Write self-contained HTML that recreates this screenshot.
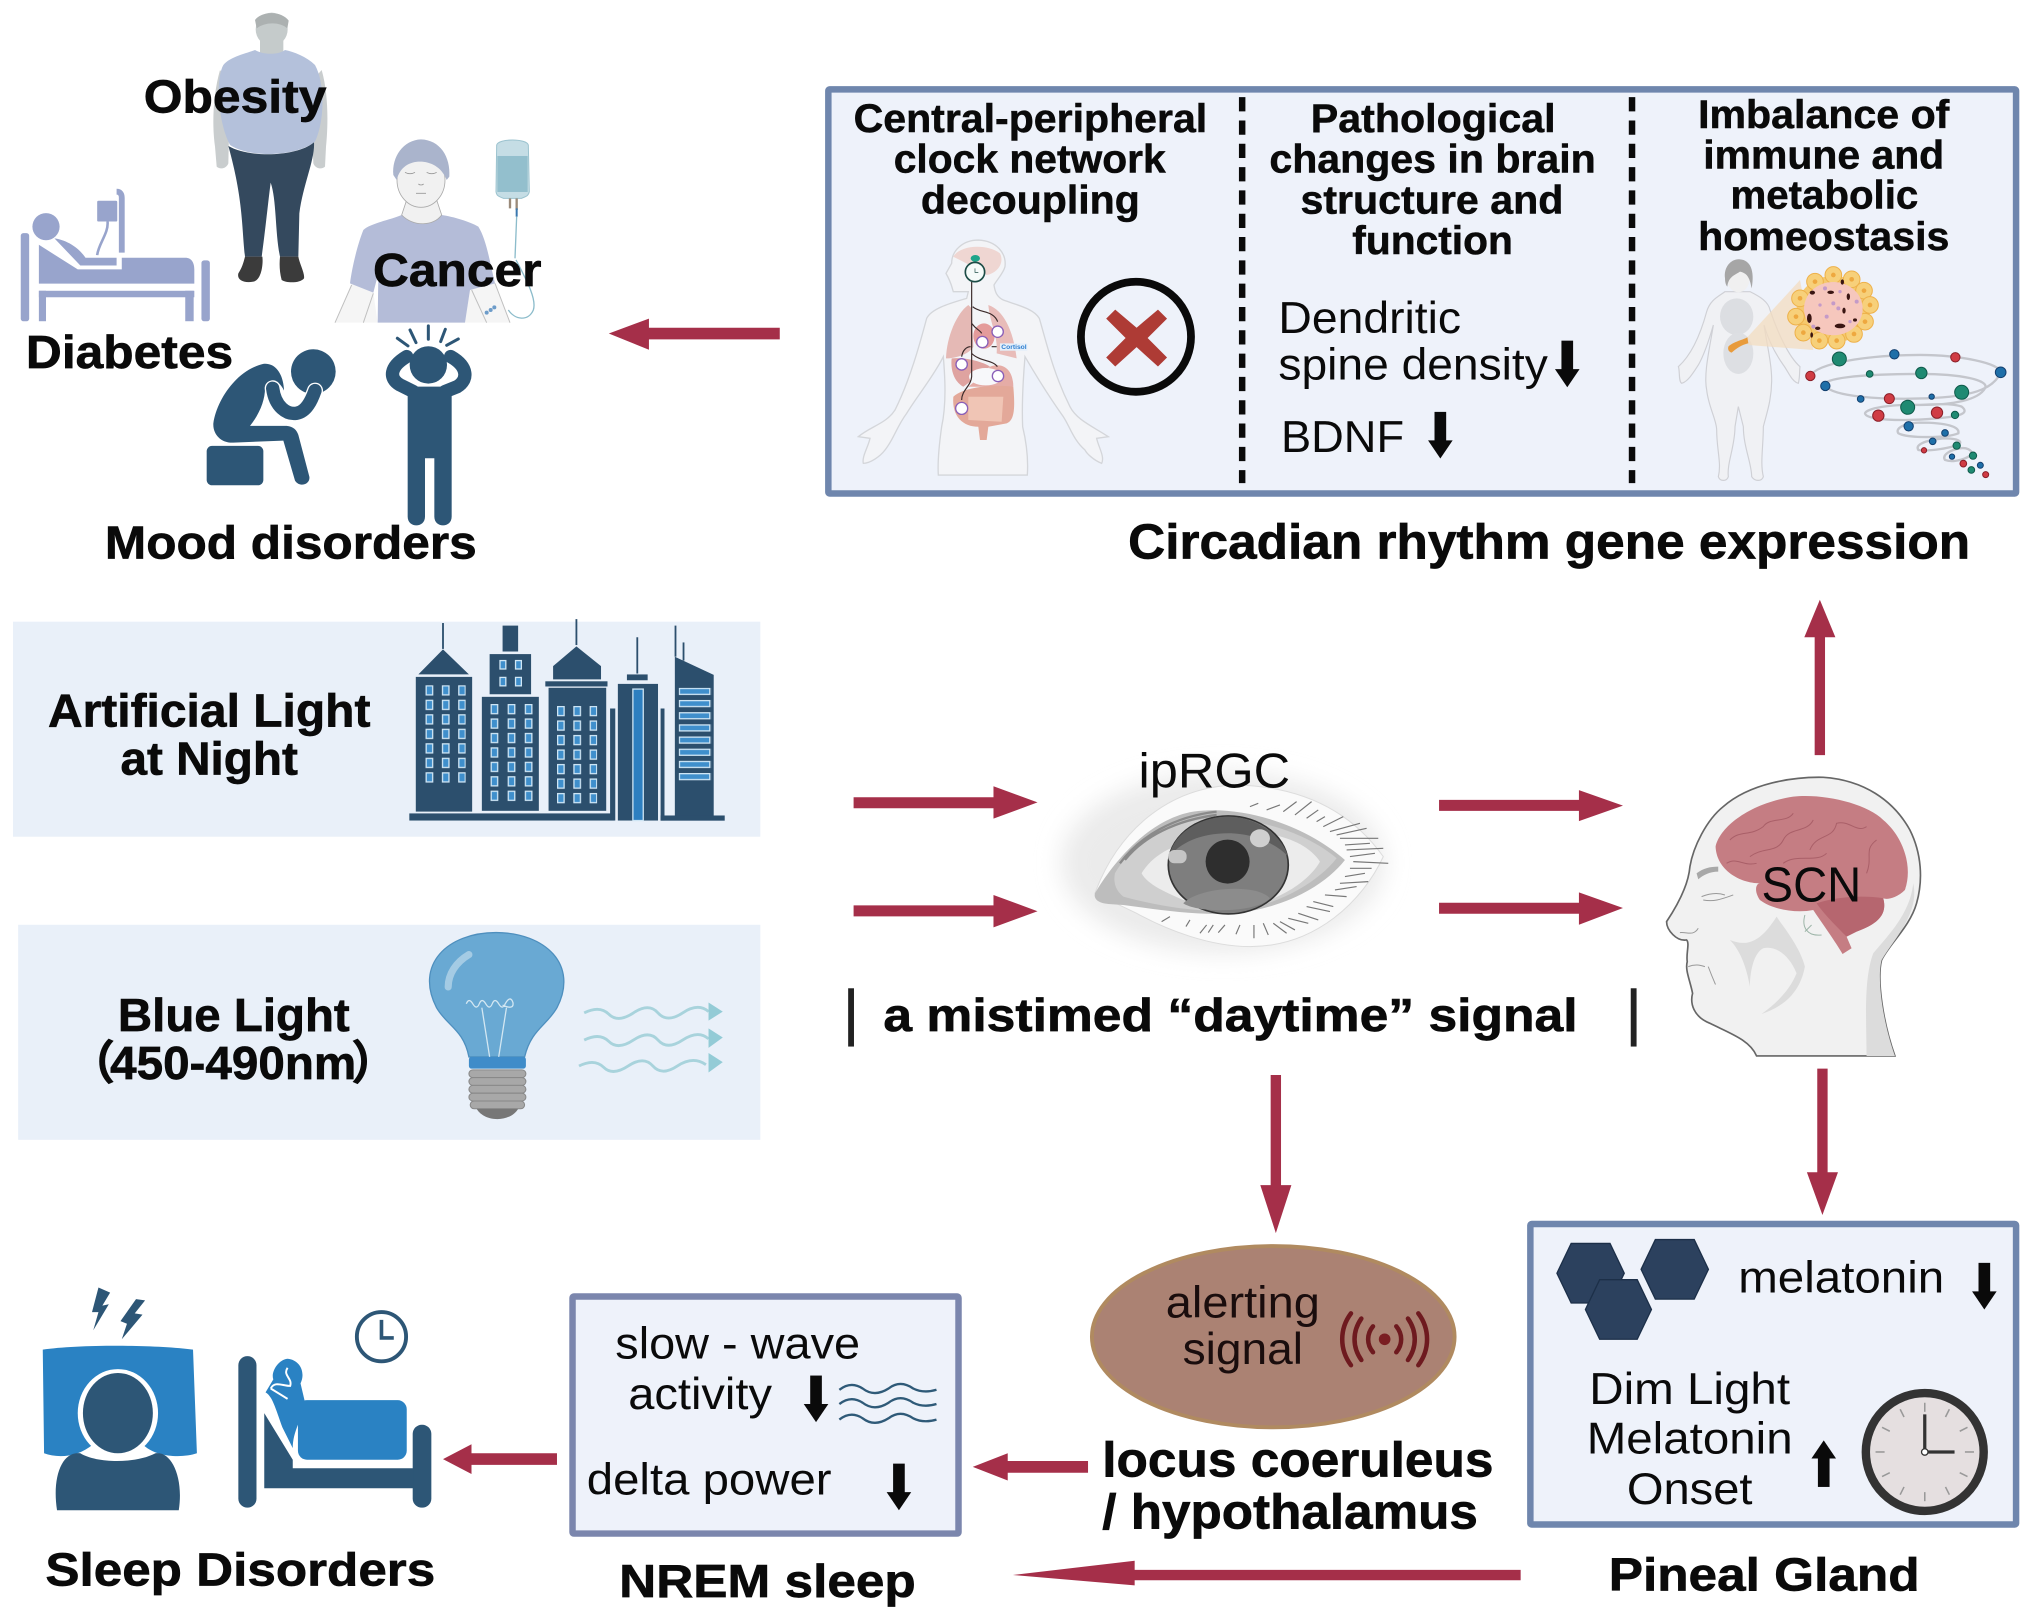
<!DOCTYPE html>
<html><head><meta charset="utf-8"><style>
html,body{margin:0;padding:0;background:#fff}
svg{display:block}
text{font-family:"Liberation Sans","Noto Sans CJK SC",sans-serif;fill:#0a0a0a}
.b{font-weight:bold;font-size:36px;stroke:#0a0a0a;stroke-width:.5px}
.h{font-weight:bold;font-size:31px;stroke:#0a0a0a;stroke-width:.4px}
.r{font-size:34px}
</style></head><body>
<svg xmlns="http://www.w3.org/2000/svg" width="2031" height="1621" viewBox="0 0 1568 1251.5">
<defs>
<pattern id="w1" x="328.5" y="529" width="12.6" height="11.2" patternUnits="userSpaceOnUse"><rect x="0.5" y="0.5" width="5" height="7" fill="#3f8fcc" stroke="#cfe6f5" stroke-width="1"/></pattern>
<pattern id="w2" x="378.7" y="543.5" width="13.2" height="11.15" patternUnits="userSpaceOnUse"><rect x="0.5" y="0.5" width="5" height="7" fill="#3f8fcc" stroke="#cfe6f5" stroke-width="1"/></pattern>
<pattern id="w3" x="430" y="545" width="12.6" height="11.2" patternUnits="userSpaceOnUse"><rect x="0.5" y="0.5" width="5" height="7" fill="#3f8fcc" stroke="#cfe6f5" stroke-width="1"/></pattern>
<pattern id="w5" x="524" y="531" width="25" height="9.4" patternUnits="userSpaceOnUse"><rect x="0.5" y="0.5" width="23.5" height="4.6" fill="#3f8fcc" stroke="#cfe6f5" stroke-width="1"/></pattern>
<filter id="bl" x="-30%" y="-30%" width="160%" height="160%"><feGaussianBlur stdDeviation="9"/></filter>
<g id="da"><rect x="-4.5" y="0" width="9" height="24" fill="#0a0a0a"/><path d="M-9.5,22 L9.5,22 L0,36 Z" fill="#0a0a0a"/></g>
</defs>

<!-- Obese man and cancer patient drawn in crop coordinates -->
<g transform="translate(154.4,0) scale(.25734)">
<path d="M60,210 C40,280 35,370 45,440 L50,500 C60,510 80,505 85,490 L90,250 Z M365,210 C385,280 385,370 378,440 L375,500 C365,510 345,505 340,490 L330,250 Z" fill="#c9cdce"/>
<rect x="180" y="115" width="70" height="50" fill="#c5cbcb"/>
<ellipse cx="215" cy="88" rx="48" ry="50" fill="#c5cbcb"/>
<path d="M165,60 C185,32 245,32 266,62 L262,85 C240,65 195,65 170,85 Z" fill="#acb1b1"/>
<path d="M165,150 C140,160 90,170 70,195 C45,240 55,370 90,435 C150,475 290,470 345,425 C375,360 375,250 345,195 C320,170 280,155 255,150 C235,165 190,165 165,150 Z" fill="#b4c1db"/>
<path d="M85,438 C150,475 290,470 342,427 C345,480 310,550 298,640 L295,770 L240,770 C225,700 230,600 212,548 C205,600 195,700 185,770 L135,770 C125,680 130,600 85,438 Z" fill="#34495e"/>
<path d="M135,770 L187,770 C190,790 185,840 160,845 C130,850 110,840 115,820 C125,805 130,790 135,770 Z M240,770 L295,770 C298,790 315,820 312,835 C300,850 260,850 245,840 C238,815 238,790 240,770 Z" fill="#3b3b3b"/>

<path d="M455,850 L405,968 L930,968 L885,850 L810,870 L795,968 L533,968 L520,878 Z" fill="#f5f5f5"/>
<path d="M455,855 L405,968 M520,880 L490,968 M815,870 L860,968 M885,850 L930,968" fill="none" stroke="#c0c0c0" stroke-width="3"/>
<path d="M605,645 C570,660 510,670 490,690 C470,740 455,810 450,850 L520,878 L535,820 L533,968 L795,968 L810,870 L885,850 C870,790 860,720 835,680 C810,665 760,650 725,645 C700,680 640,680 605,645 Z" fill="#b4bcd8"/>
<path d="M620,600 L710,600 L725,645 C700,680 640,680 605,645 Z" fill="#f1f1f1" stroke="#aaa" stroke-width="2.5"/>
<ellipse cx="663" cy="540" rx="72" ry="82" fill="#f1f1f1" stroke="#aaa" stroke-width="2.5"/>
<path d="M580,525 C575,470 610,420 663,418 C720,420 752,470 748,530 L740,540 C725,500 690,485 660,485 C630,485 600,500 590,540 Z" fill="#aab4cc"/>
<path d="M615,517 q15,8 30,0 M680,517 q15,8 30,0 M648,580 h30 M655,552 q8,6 16,0" fill="none" stroke="#999" stroke-width="2.5"/>
<path d="M890,435 C895,415 980,415 985,435 L988,575 C985,590 975,590 965,595 L910,595 C900,590 890,590 888,575 Z" fill="#c5dde5" stroke="#9cc3cf" stroke-width="3"/>
<rect x="892" y="468" width="91" height="108" fill="#93bfcd"/>
<path d="M930,595 v30 M950,595 v35" stroke="#9a8a7a" stroke-width="7"/>
<path d="M950,625 v25" stroke="#3a78b0" stroke-width="6"/>
<path d="M950,650 L945,775 M948,780 C985,850 1010,900 1000,930 C985,965 945,960 925,930" fill="none" stroke="#8cbccb" stroke-width="4"/>
<g fill="#6d9cc9"><circle cx="860" cy="938" r="6"/><circle cx="872" cy="930" r="6"/><circle cx="883" cy="922" r="6"/></g>
</g>

<!-- Hospital bed -->
<g fill="#98a4cc">
<rect x="16" y="180" width="6.5" height="68" rx="2"/>
<rect x="155.5" y="201" width="6.5" height="47" rx="2"/>
<circle cx="35.5" cy="175" r="10.5"/>
<path d="M30,189 L60,208 L94,208 L94,199 L143,199 C148,199 150,203 150,208 L150,219 L30,219 Z"/>
<path d="M42,184 C50,185 60,190 66,199 L90,199 L90,205 L62,205 Z"/>
<rect x="30" y="224.5" width="120" height="5"/>
<rect x="30" y="224.5" width="5.5" height="23.5"/>
<rect x="143" y="224.5" width="6.5" height="23.5"/>
<rect x="75" y="155" width="15.5" height="16" rx="1"/>
<path d="M94,195 L94,153 Q94,148 90,148" fill="none" stroke="#98a4cc" stroke-width="4.5"/>
<path d="M83,171 C84,180 76,188 75,197" fill="none" stroke="#98a4cc" stroke-width="2"/>
</g>

<!-- Mood disorder figures -->
<g transform="translate(154.4,247) scale(.25734)" fill="#2d5676">
<path d="M40,310 C50,240 110,150 190,132 C225,128 250,160 252,212 C235,175 205,175 195,205 C195,240 180,280 150,318 L260,318 C280,320 290,330 295,345 L328,470 C332,492 300,505 285,482 L250,362 L100,368 C65,370 38,345 40,310 Z"/>
<circle cx="340" cy="155" r="67"/>
<path d="M218,205 C225,260 260,285 290,280 C320,275 335,240 345,212" fill="none" stroke="#fff" stroke-width="48" stroke-linecap="round"/>
<path d="M218,205 C225,260 260,285 290,280 C320,275 335,240 345,212" fill="none" stroke="#2d5676" stroke-width="40" stroke-linecap="round"/>
<rect x="20" y="378" width="170" height="118" rx="16"/>
<circle cx="685" cy="135" r="56"/>
<path d="M620,110 C570,140 565,175 600,195 L640,215 M752,110 C805,140 805,180 772,200 L735,215" fill="none" stroke="#2d5676" stroke-width="40" stroke-linecap="round"/>
<path d="M623,200 L755,200 L755,590 C755,625 703,625 703,590 L703,415 L675,415 L675,590 C675,625 623,625 623,590 Z"/>
<g stroke="#2d5676" stroke-width="9" stroke-linecap="round"><line x1="592" y1="55" x2="624" y2="78"/><line x1="630" y1="30" x2="648" y2="68"/><line x1="685" y1="18" x2="685" y2="58"/><line x1="736" y1="28" x2="722" y2="65"/><line x1="775" y1="57" x2="740" y2="76"/></g>
</g>

<text class="b" x="111" y="87" textLength="141" lengthAdjust="spacingAndGlyphs">Obesity</text>
<text class="b" x="288" y="221" textLength="130" lengthAdjust="spacingAndGlyphs">Cancer</text>
<text class="b" x="20" y="284" textLength="160" lengthAdjust="spacingAndGlyphs">Diabetes</text>
<text class="b" x="81" y="431" textLength="287" lengthAdjust="spacingAndGlyphs">Mood disorders</text>

<!-- Top box -->
<rect x="639.5" y="69" width="917" height="312" fill="#eef2fa" stroke="#6f86ad" stroke-width="5" rx="1"/>
<line x1="959" y1="75" x2="959" y2="373" stroke="#0a0a0a" stroke-width="5" stroke-dasharray="11 7"/>
<line x1="1260" y1="75" x2="1260" y2="373" stroke="#0a0a0a" stroke-width="5" stroke-dasharray="11 7"/>

<text class="h" x="659" y="102" textLength="273" lengthAdjust="spacingAndGlyphs">Central-peripheral</text>
<text class="h" x="690" y="133" textLength="210" lengthAdjust="spacingAndGlyphs">clock network</text>
<text class="h" x="711" y="165" textLength="169" lengthAdjust="spacingAndGlyphs">decoupling</text>
<text class="h" x="1012" y="102" textLength="189" lengthAdjust="spacingAndGlyphs">Pathological</text>
<text class="h" x="980" y="133" textLength="252" lengthAdjust="spacingAndGlyphs">changes in brain</text>
<text class="h" x="1004" y="165" textLength="203" lengthAdjust="spacingAndGlyphs">structure and</text>
<text class="h" x="1044" y="196" textLength="124" lengthAdjust="spacingAndGlyphs">function</text>
<text class="h" x="1311" y="99" textLength="194" lengthAdjust="spacingAndGlyphs">Imbalance of</text>
<text class="h" x="1315" y="130" textLength="186" lengthAdjust="spacingAndGlyphs">immune and</text>
<text class="h" x="1336" y="161" textLength="145" lengthAdjust="spacingAndGlyphs">metabolic</text>
<text class="h" x="1311" y="193" textLength="194" lengthAdjust="spacingAndGlyphs">homeostasis</text>

<!-- Anatomy figure -->
<g transform="translate(648.5,177.6) scale(.25734)">
<path d="M335,100 C335,60 370,30 415,30 C470,32 500,70 495,110 C490,130 470,150 462,165 C465,185 470,200 490,210 C530,225 580,235 598,265 C620,340 640,430 690,530 C710,570 760,590 805,620 L770,625 C775,650 795,680 785,700 C760,690 740,670 735,660 C700,630 690,590 670,560 C620,490 590,440 555,380 C550,440 545,520 548,590 C560,640 565,690 562,735 L295,735 C292,690 298,640 305,590 C320,520 315,440 310,380 C280,440 230,500 200,550 C170,590 160,630 135,660 C120,680 90,700 70,700 C65,680 85,650 90,625 L55,620 C90,590 140,580 165,540 C210,450 240,340 260,265 C275,235 330,220 380,205 L385,185 L340,185 C335,170 335,160 318,130 Z" fill="#f3f4f7" stroke="#d4d6da" stroke-width="4"/>
<path d="M340,80 C360,45 440,40 480,70 C495,100 470,130 440,135 C400,110 370,95 340,80 Z" fill="#efd6d2"/>
<path d="M385,225 C350,250 320,320 318,385 C350,385 390,370 400,350 L395,235 Z" fill="#e5b9b5"/>
<path d="M445,225 C490,240 520,300 530,385 C510,380 490,375 470,370 C475,320 450,280 445,225 Z" fill="#e8bcb9"/>
<ellipse cx="432" cy="318" rx="32" ry="38" fill="#e49b9b"/>
<path d="M335,385 C380,380 440,400 450,410 C420,430 385,460 370,470 C350,460 330,430 335,385 Z" fill="#dfa3a0"/>
<path d="M450,410 C490,395 520,420 520,470 L385,470 C410,450 430,430 450,410 Z" fill="#e5aca6"/>
<ellipse cx="437" cy="440" rx="50" ry="26" fill="#f7f8fa"/>
<path d="M340,500 C380,465 480,465 520,470 C525,530 525,570 500,580 L445,590 L440,630 L420,630 L415,590 C370,590 335,560 340,500 Z" fill="#e3a899"/>
<path d="M385,500 L490,500 L485,575 L385,570 Z" fill="#f0c5b5"/>
<ellipse cx="406" cy="85" rx="14" ry="10" fill="#1fa58a"/>
<path d="M395,155 L395,440 C392,470 365,480 365,510 M398,230 C420,250 460,240 473,275 M395,280 C410,300 420,300 425,310 M395,370 C420,395 460,390 472,410 M392,350 C380,350 368,360 365,380 M455,350 L470,350" fill="none" stroke="#3a2a2a" stroke-width="3.5"/>
<circle cx="405" cy="126" r="29" fill="#f5fbf9" stroke="#1c4c46" stroke-width="5"/>
<path d="M405,115 v12 h10" stroke="#1c4c46" stroke-width="2" fill="none"/>
<g fill="#fff" stroke="#8a5fb8" stroke-width="4"><circle cx="473" cy="305" r="17"/><circle cx="427" cy="336" r="17"/><circle cx="365" cy="403" r="17"/><circle cx="474" cy="438" r="17"/><circle cx="365" cy="535" r="18"/></g>
<rect x="480" y="340" width="82" height="22" fill="#e4effa"/>
<text x="484" y="357" font-size="18" font-weight="bold" textLength="76" lengthAdjust="spacingAndGlyphs" style="fill:#2f7fd0">Cortisol</text>
</g>
<circle cx="877" cy="260" r="42.5" fill="none" stroke="#0a0a0a" stroke-width="6"/>
<path d="M854,246 L861,239 L877.5,253 L894,239 L901,246 L886,261 L901,276 L894,283 L877.5,268 L861,283 L854,276 L869,261 Z" fill="#ae3b35"/>

<!-- Middle column text -->
<text class="r" x="987" y="257" textLength="141" lengthAdjust="spacingAndGlyphs">Dendritic</text>
<text class="r" x="987" y="293" textLength="208" lengthAdjust="spacingAndGlyphs">spine density</text>
<text class="r" x="989" y="349" textLength="95" lengthAdjust="spacingAndGlyphs">BDNF</text>
<use href="#da" x="1210" y="263"/>
<use href="#da" x="1112" y="318"/>

<!-- Obese woman + tornado -->
<g transform="translate(1281.6,193) scale(.25734)">
<path d="M195,125 C175,140 150,150 140,185 C125,240 100,310 55,350 C60,360 55,395 65,400 C85,395 105,360 115,345 C135,310 150,260 160,225 C150,290 130,370 140,420 C145,470 170,510 170,540 C170,600 185,640 175,680 C180,695 200,695 205,680 C200,640 225,590 225,530 L235,470 L250,530 C250,590 275,640 275,680 C285,695 305,695 310,680 C300,640 310,590 310,530 C320,490 335,450 335,390 C335,340 320,280 312,225 C325,270 345,310 370,345 C385,365 395,395 415,400 C420,380 418,365 420,350 C385,320 350,240 330,180 C325,155 300,140 270,125 Z" fill="#f0f1f4" stroke="#cfd0d5" stroke-width="3.5"/>
<ellipse cx="235" cy="85" rx="34" ry="42" fill="#f0f0f0"/>
<path d="M195,85 C190,50 215,25 240,28 C270,30 285,60 275,115 C270,90 265,70 240,65 C225,75 205,80 202,110 C197,105 195,95 195,85 Z" fill="#a6a6a6"/>
<ellipse cx="230" cy="200" rx="50" ry="55" fill="#dcdee2"/>
<ellipse cx="235" cy="310" rx="45" ry="62" fill="#dddfe3"/>
<polygon points="262,262 420,90 460,300 265,285" fill="#f3dcc0" opacity=".75"/>
<path d="M205,290 C220,275 250,270 262,262 L265,280 C245,285 230,295 215,308 C205,305 203,298 205,290 Z" fill="#e89b3c"/>
<ellipse cx="520" cy="178" rx="110" ry="100" fill="#f5c96e"/>
<g fill="#f7d07a" stroke="#eeb14a" stroke-width="3"><circle cx="465" cy="95" r="25"/><circle cx="520" cy="75" r="25"/><circle cx="575" cy="88" r="25"/><circle cx="612" cy="122" r="25"/><circle cx="630" cy="165" r="25"/><circle cx="615" cy="215" r="25"/><circle cx="582" cy="252" r="25"/><circle cx="530" cy="272" r="25"/><circle cx="478" cy="272" r="25"/><circle cx="430" cy="248" r="25"/><circle cx="408" cy="200" r="25"/><circle cx="420" cy="145" r="25"/></g>
<g fill="#eea83f"><circle cx="465" cy="95" r="7"/><circle cx="520" cy="75" r="7"/><circle cx="575" cy="88" r="7"/><circle cx="612" cy="122" r="7"/><circle cx="630" cy="165" r="7"/><circle cx="615" cy="215" r="7"/><circle cx="582" cy="252" r="7"/><circle cx="530" cy="272" r="7"/><circle cx="478" cy="272" r="7"/><circle cx="430" cy="248" r="7"/><circle cx="408" cy="200" r="7"/><circle cx="420" cy="145" r="7"/></g>
<ellipse cx="520" cy="176" rx="88" ry="80" fill="#f6c7bd"/>
<g fill="#3a1512"><ellipse cx="457" cy="128" rx="8" ry="6"/><ellipse cx="512" cy="127" rx="10" ry="5"/><ellipse cx="547" cy="96" rx="5" ry="8"/><ellipse cx="565" cy="140" rx="5" ry="10"/><ellipse cx="448" cy="205" rx="7" ry="14"/><ellipse cx="540" cy="228" rx="16" ry="7"/><ellipse cx="552" cy="182" rx="5" ry="9"/><ellipse cx="473" cy="235" rx="8" ry="5"/><ellipse cx="455" cy="255" rx="4" ry="8"/><ellipse cx="585" cy="210" rx="6" ry="5"/></g>
<g fill="#c49ac8"><circle cx="495" cy="115" r="6"/><circle cx="540" cy="125" r="5"/><circle cx="520" cy="160" r="6"/><circle cx="480" cy="165" r="5"/><circle cx="590" cy="155" r="6"/><circle cx="500" cy="200" r="6"/><circle cx="535" cy="175" r="6"/><circle cx="460" cy="230" r="6"/><circle cx="570" cy="215" r="5"/></g>
<g fill="none" stroke="#c4c6cc" stroke-width="7">
<path d="M451,378 C470,340 620,315 780,315 C900,315 1020,340 1022,367 C1000,420 930,440 800,445 C660,450 520,440 496,408 C480,385 600,372 780,372 C900,372 990,390 975,415 C955,450 880,465 780,465 C690,462 620,475 615,490 C615,510 720,515 830,505 C900,500 930,490 905,470 C880,460 820,462 780,465"/>
<path d="M780,518 C730,520 705,535 715,550 C740,565 860,565 895,550 C900,530 860,518 780,518 Z"/>
<path d="M850,565 C790,572 765,585 775,600 C800,605 880,595 900,580 C905,570 880,565 850,565 Z"/>
<path d="M900,595 C870,600 845,615 855,630 C880,640 930,625 935,610 C935,600 920,592 900,595 Z"/>
</g>
<g stroke="#0f5a4a" stroke-width="3" fill="#1f8a72"><circle cx="538" cy="327" r="21"/><circle cx="629" cy="372" r="10"/><circle cx="784" cy="369" r="17"/><circle cx="905" cy="427" r="21"/><circle cx="743" cy="472" r="21"/><circle cx="885" cy="495" r="11"/><circle cx="890" cy="587" r="11"/><circle cx="939" cy="617" r="11"/><circle cx="934" cy="660" r="10"/></g>
<g stroke="#123f6e" stroke-width="3" fill="#1e6fa8"><circle cx="703" cy="313" r="14"/><circle cx="1022" cy="367" r="16"/><circle cx="496" cy="408" r="14"/><circle cx="602" cy="447" r="10"/><circle cx="815" cy="440" r="8"/><circle cx="746" cy="529" r="14"/><circle cx="855" cy="549" r="10"/><circle cx="818" cy="574" r="10"/><circle cx="876" cy="620" r="8"/><circle cx="961" cy="646" r="9"/></g>
<g stroke="#8a1f28" stroke-width="3" fill="#d03c44"><circle cx="886" cy="322" r="14"/><circle cx="451" cy="378" r="14"/><circle cx="688" cy="446" r="15"/><circle cx="655" cy="497" r="17"/><circle cx="831" cy="488" r="17"/><circle cx="792" cy="601" r="8"/><circle cx="910" cy="641" r="10"/><circle cx="977" cy="674" r="9"/></g>
</g>

<text x="871" y="431" textLength="650" lengthAdjust="spacingAndGlyphs" class="b" style="font-size:38px">Circadian rhythm gene expression</text>

<!-- Artificial light panel -->
<rect x="10" y="480" width="577" height="166" fill="#e9f0f9"/>
<text class="b" x="37" y="561" textLength="249" lengthAdjust="spacingAndGlyphs">Artificial Light</text>
<text class="b" x="93" y="598" textLength="137" lengthAdjust="spacingAndGlyphs">at Night</text>
<g fill="#2c4f6d">
<rect x="321" y="522.6" width="43.5" height="104"/>
<polygon points="342,501.4 362,520.7 323,520.7"/>
<rect x="341.3" y="481" width="1.4" height="20"/>
<rect x="372" y="538" width="44" height="88"/>
<rect x="378" y="505" width="32" height="31"/>
<rect x="388" y="483" width="12" height="20"/>
<rect x="423.5" y="531" width="44.5" height="95"/>
<rect x="421" y="526" width="48" height="4"/>
<polygon points="445,499 464,514.3 464,524.5 427,524.5 427,514.3"/>
<rect x="444.3" y="478" width="1.4" height="20"/>
<rect x="477" y="528" width="31" height="105.5"/>
<rect x="484" y="520.7" width="16" height="4.5"/>
<rect x="491.3" y="492" width="1.4" height="28"/>
<rect x="471" y="547" width="4" height="86.5"/>
<rect x="510" y="547" width="3" height="86.5"/>
<polygon points="521,507 551,521 551,630 521,630"/>
<rect x="520.8" y="483" width="1.4" height="24"/>
<rect x="527" y="496" width="1.4" height="14"/>
<rect x="316" y="628" width="158" height="5.5"/>
<rect x="510" y="629.6" width="49.5" height="4"/>
</g>
<rect x="328.5" y="529" width="31" height="78" fill="url(#w1)"/>
<rect x="378.7" y="543.5" width="34" height="78" fill="url(#w2)"/>
<rect x="430" y="545" width="31" height="78" fill="url(#w3)"/>
<rect x="524" y="531" width="25" height="75" fill="url(#w5)"/>
<rect x="488.6" y="532" width="8" height="101.5" fill="#2d7fc0" stroke="#cfe6f5" stroke-width="1"/>
<g fill="#3f8fcc" stroke="#cfe6f5" stroke-width="1"><rect x="386" y="510" width="4.5" height="6.5"/><rect x="398" y="510" width="4.5" height="6.5"/><rect x="386" y="523" width="4.5" height="6.5"/><rect x="398" y="523" width="4.5" height="6.5"/></g>

<!-- Blue light panel -->
<rect x="14" y="714" width="573" height="166" fill="#e9f0f9"/>
<text class="b" x="91" y="796" textLength="179" lengthAdjust="spacingAndGlyphs">Blue Light</text>
<text class="b" x="53" y="833">（</text>
<text class="b" x="85" y="833" textLength="190" lengthAdjust="spacingAndGlyphs">450-490nm</text>
<text class="b" x="271" y="833">）</text>
<path d="M362,816 C358,795 345,792 337,778 C320,745 345,720 383,720 C421,720 447,745 430,778 C422,792 410,795 405,816 Z" fill="#69a9d3" stroke="#4e8fbe" stroke-width="1"/>
<path d="M346,762 C346,752 352,743 362,737" fill="none" stroke="#a4cbe4" stroke-width="5.5" stroke-linecap="round"/>
<path d="M360,775 q2,-5 5,0 q3,5 5,0 q2,-5 5,0 q3,5 5,0 q2,-5 5,0 q3,5 5,0 q4,-7 6,-1 q1,6 -8,2 M372,778 L378,816 M391,778 L385,816" fill="none" stroke="#d3e7f2" stroke-width="1"/>
<rect x="362" y="816" width="44" height="9" fill="#3f8cc9" rx="2"/>
<g fill="#a8a8a8" stroke="#888" stroke-width=".8"><rect x="362" y="826" width="44" height="6" rx="3"/><rect x="362" y="832" width="44" height="6" rx="3"/><rect x="362" y="838" width="44" height="6" rx="3"/><rect x="362" y="844" width="44" height="6" rx="3"/><rect x="363" y="850" width="42" height="6" rx="3"/></g>
<path d="M368,856 L400,856 C398,860 392,864 384,864 C376,864 370,860 368,856 Z" fill="#777"/>
<g fill="none" stroke="#a8d3dc" stroke-width="2.2">
<path d="M451,782 q12,-6 19,1 t19,-1 t19,0 t19,0 t20,-1"/>
<path d="M451,803 q12,-6 19,1 t19,-1 t19,0 t19,0 t20,-1"/>
<path d="M447,823 q12,-6 19,1 t19,-1 t19,0 t19,0 t22,-1"/>
</g>
<g fill="#93cbd6"><polygon points="547,774 558,781 547,788"/><polygon points="547,794 558,801 547,809"/><polygon points="547,813 558,820 547,828"/></g>

<!-- Eye -->
<ellipse cx="944" cy="666" rx="125" ry="70" fill="#ebebeb" filter="url(#bl)"/>
<g transform="translate(810.6,579) scale(.25734)">
<path d="M135,430 C200,250 350,110 560,105 C750,110 900,180 1000,320 C940,450 800,590 600,590 C480,590 350,540 260,490 Z" fill="#fafafa" stroke="#dcdcdc" stroke-width="3"/>
<path d="M135,430 C170,370 280,210 430,185 C570,165 760,220 885,330 C830,400 720,470 560,490 C440,498 330,480 220,465 L175,462 C150,460 130,450 135,430 Z" fill="#bdbdbd"/>
<path d="M195,370 C240,290 340,220 480,205 C600,200 760,240 860,325 C810,390 700,460 570,480 C450,490 330,470 220,440 C195,420 190,395 195,370 Z" fill="#cfcfcf"/>
<path d="M275,370 C310,310 380,280 450,270 L640,250 C720,260 780,290 810,335 C780,390 700,440 640,455 L400,450 C340,425 290,400 275,370 Z" fill="#ececec"/>
<ellipse cx="535" cy="345" rx="180" ry="147" fill="#7e7e7e" stroke="#333" stroke-width="5"/>
<path d="M358,320 C370,250 450,200 535,200 C620,200 700,260 714,320 C690,290 620,250 535,250 C450,250 390,280 358,320 Z" fill="#5e5e5e"/>
<path d="M400,460 C450,410 620,400 660,445 C620,490 440,490 400,460 Z" fill="#8c8c8c"/>
<circle cx="533" cy="335" r="66" fill="#2e2e2e"/>
<ellipse cx="630" cy="265" rx="30" ry="27" fill="#cfcfcf"/>
<rect x="355" y="300" width="55" height="40" rx="18" fill="#c5c5c5"/>
<path d="M210,340 C270,260 370,200 500,185 M225,330 C280,260 380,210 500,195" fill="none" stroke="#8a8a8a" stroke-width="7"/>
<g stroke="#777" stroke-width="3.5" fill="none">
<path d="M600,170 L625,160 M650,180 L690,165 M700,185 L740,155 M735,195 L785,155 M770,205 L805,180 M800,215 L825,200 M820,230 L880,200 M840,245 L930,220 M860,255 L950,235 M870,265 L985,265 M885,285 L960,280 M890,300 L1000,295 M900,320 L975,310 M910,335 L1015,340"/>
<path d="M900,355 L965,355 M885,380 L945,370 M870,400 L955,395 M855,420 L920,410 M825,435 L890,440 M790,455 L850,470 M770,470 L840,485 M745,490 L805,510 M715,505 L775,520 M690,515 L735,540 M670,520 L710,550 M640,520 L655,555 M612,525 L612,565 M570,525 L558,553 M525,525 L505,548 M490,525 L475,548 M470,525 L450,550 M420,510 L408,530 M360,500 L335,515"/>
</g>
</g>
<text x="879" y="608" font-size="38" textLength="117" lengthAdjust="spacingAndGlyphs">ipRGC</text>

<!-- Head -->
<g transform="translate(1273.8,571.3) scale(.25734)">
<path d="M320,948 C300,900 240,880 180,850 C130,830 120,790 128,760 C120,720 105,690 112,665 C108,640 120,610 110,600 C80,605 50,570 50,545 C80,500 115,440 120,380 C130,320 170,240 220,200 C300,130 430,110 520,112 C640,120 730,180 780,270 C815,340 820,420 800,490 C780,560 720,610 695,660 C680,720 700,850 735,948 Z" fill="#f1f1f1" stroke="#666" stroke-width="5"/>
<path d="M650,948 C650,850 640,720 670,640 C720,580 780,520 790,430 C810,520 730,600 695,660 C680,720 700,850 735,948 Z" fill="#dcdcdc"/>
<path d="M240,600 C290,620 330,610 380,530 C400,560 450,620 465,680 C450,760 400,800 335,822 C380,790 420,750 440,700 C420,650 380,615 340,625 C310,640 300,700 300,740 C290,680 270,630 240,600 Z" fill="#dcdcdc"/>
<path d="M140,400 C160,385 180,380 205,380 L205,395 C180,395 160,405 145,418 Z" fill="#a8a8a8"/>
<path d="M155,470 C180,460 205,458 225,465 M160,480 C190,485 210,480 250,465 M90,578 C110,575 130,590 145,565 M115,680 C135,672 150,675 165,680 M175,680 C190,720 200,740 195,730" fill="none" stroke="#999" stroke-width="3"/>
<path d="M197,320 C210,260 300,190 430,170 C520,160 650,190 700,240 C760,290 790,380 765,450 C740,475 710,480 700,475 C712,520 690,550 620,575 L590,590 L605,625 L578,642 C560,610 510,540 490,510 C440,520 370,510 330,480 C310,450 320,430 330,430 C270,430 200,390 197,320 Z" fill="#c57d83"/>
<path d="M500,490 C560,470 640,465 700,475 C712,520 690,550 620,575 L590,590 C560,560 520,520 500,490 Z" fill="#b6666f"/>
<path d="M240,300 C270,270 300,290 340,260 C360,230 410,250 430,220 M300,350 C340,320 380,340 400,300 C420,260 470,280 490,240 M480,330 C500,280 550,300 560,250 C600,240 620,280 650,260 M650,400 C670,350 640,330 680,300 M400,370 C440,340 500,370 530,340 M230,370 C260,350 280,380 320,370" fill="none" stroke="#a95f68" stroke-width="3"/>
<path d="M465,525 C455,560 470,590 515,585 M465,575 l20,-20" fill="none" stroke="#9db5a8" stroke-width="3"/>
</g>
<text x="1360" y="696" font-size="38" textLength="77" lengthAdjust="spacingAndGlyphs">SCN</text>

<!-- mistimed -->
<rect x="654.8" y="763" width="4.5" height="45" fill="#222"/>
<rect x="1259" y="763" width="4.5" height="45" fill="#222"/>
<text class="b" x="682" y="796" textLength="536" lengthAdjust="spacingAndGlyphs">a mistimed “daytime” signal</text>

<!-- Arrows -->
<g fill="#a52f49">
<path d="M602,253 L501,253 L501,246 L470,257.5 L501,270 L501,262 L602,262 Z"/>
<path d="M659,615.5 L767,615.5 L767,607 L801,619.5 L767,632 L767,624 L659,624 Z"/>
<path d="M659,699 L767,699 L767,691 L801,703.5 L767,716 L767,707.5 L659,707.5 Z"/>
<path d="M1111,617.5 L1219,617.5 L1219,610 L1253,622 L1219,634 L1219,626 L1111,626 Z"/>
<path d="M1111,697 L1219,697 L1219,689 L1253,701 L1219,714 L1219,705.5 L1111,705.5 Z"/>
<path d="M1401,583 L1401,492 L1393,492 L1405,463 L1417,492 L1409,492 L1409,583 Z"/>
<path d="M981,830 L981,915 L973,915 L985,952 L997,915 L989,915 L989,830 Z"/>
<path d="M1403,825 L1403,905 L1395,905 L1407,938 L1419,905 L1411,905 L1411,825 Z"/>
<path d="M430,1122 L364,1122 L364,1115 L342,1126.5 L364,1138 L364,1131 L430,1131 Z"/>
<path d="M840,1128 L778,1128 L778,1122 L751,1132.5 L778,1143 L778,1137 L840,1137 Z"/>
<path d="M1174,1212 L876,1212 L876,1205 L782,1216 L876,1224 L876,1220 L1174,1220 Z"/>
</g>

<!-- Locus coeruleus -->
<ellipse cx="983" cy="1032" rx="140" ry="70" fill="#ab8273" stroke="#b08a60" stroke-width="3"/>
<text class="r" x="900" y="1017" textLength="119" lengthAdjust="spacingAndGlyphs" style="fill:#1a0d0d">alerting</text>
<text class="r" x="913" y="1053" textLength="93" lengthAdjust="spacingAndGlyphs" style="fill:#1a0d0d">signal</text>
<g fill="none" stroke="#6e1a1f" stroke-width="3.5" stroke-linecap="round">
<path d="M1060,1024 C1055,1030 1055,1038 1060,1044 M1078,1024 C1083,1030 1083,1038 1078,1044"/>
<path d="M1051,1018 C1044,1028 1044,1040 1051,1050 M1087,1018 C1094,1028 1094,1040 1087,1050"/>
<path d="M1043,1014 C1034,1026 1034,1042 1043,1054 M1095,1014 C1104,1026 1104,1042 1095,1054"/>
</g>
<circle cx="1069" cy="1034" r="4.5" fill="#7a1e22"/>
<text class="b" x="851" y="1140" textLength="302" lengthAdjust="spacingAndGlyphs" style="font-size:38px">locus coeruleus</text>
<text class="b" x="851" y="1180" textLength="290" lengthAdjust="spacingAndGlyphs" style="font-size:38px">/ hypothalamus</text>

<!-- Pineal box -->
<rect x="1181.5" y="945" width="375" height="232" fill="#eef2fa" stroke="#6f86ad" stroke-width="5" rx="1"/>
<g fill="#2c415e" stroke="#1c2f48" stroke-width="1">
<polygon points="1202,983 1213,960 1243,960 1254,983 1243,1006 1213,1006"/>
<polygon points="1267,980 1278,957 1308,957 1319,980 1308,1003 1278,1003"/>
<polygon points="1224,1011 1235,988 1264,988 1275,1011 1264,1034 1235,1034"/>
</g>
<text class="r" x="1342" y="998" textLength="159" lengthAdjust="spacingAndGlyphs">melatonin</text>
<use href="#da" x="1532" y="975"/>
<text class="r" x="1227" y="1084" textLength="155" lengthAdjust="spacingAndGlyphs">Dim Light</text>
<text class="r" x="1225" y="1122" textLength="159" lengthAdjust="spacingAndGlyphs">Melatonin</text>
<text class="r" x="1256" y="1161" textLength="97" lengthAdjust="spacingAndGlyphs">Onset</text>
<g transform="translate(1408,1148) scale(1,-1)"><use href="#da" x="0" y="0"/></g>
<circle cx="1486" cy="1121" r="45.5" fill="#e5dfe0" stroke="#333" stroke-width="6.5"/>
<g stroke="#999" stroke-width="1.2"><line x1="1486" y1="1083" x2="1486" y2="1090"/><line x1="1486" y1="1152" x2="1486" y2="1159"/><line x1="1448" y1="1121" x2="1455" y2="1121"/><line x1="1517" y1="1121" x2="1524" y2="1121"/><line x1="1467" y1="1088" x2="1470" y2="1094"/><line x1="1505" y1="1088" x2="1502" y2="1094"/><line x1="1467" y1="1154" x2="1470" y2="1148"/><line x1="1505" y1="1154" x2="1502" y2="1148"/><line x1="1453" y1="1102" x2="1459" y2="1105"/><line x1="1519" y1="1102" x2="1513" y2="1105"/><line x1="1453" y1="1140" x2="1459" y2="1137"/><line x1="1519" y1="1140" x2="1513" y2="1137"/></g>
<path d="M1486,1121 L1486,1092 M1486,1121 L1509,1121" stroke="#333" stroke-width="2.5"/>
<circle cx="1486" cy="1121" r="2.5" fill="#fff" stroke="#333" stroke-width="1"/>
<text class="b" x="1242" y="1228" textLength="240" lengthAdjust="spacingAndGlyphs">Pineal Gland</text>

<!-- NREM box -->
<rect x="442" y="1001" width="298" height="183" fill="#eef2fa" stroke="#7b86ad" stroke-width="5" rx="1"/>
<text class="r" x="475" y="1049" textLength="189" lengthAdjust="spacingAndGlyphs">slow - wave</text>
<text class="r" x="485" y="1088" textLength="111" lengthAdjust="spacingAndGlyphs">activity</text>
<text class="r" x="453" y="1154" textLength="189" lengthAdjust="spacingAndGlyphs">delta power</text>
<use href="#da" x="630" y="1062"/>
<use href="#da" x="694" y="1130"/>
<g fill="none" stroke="#2f5a78" stroke-width="1.8">
<path d="M648,1073 q9,-7 18,-1 q9,7 20,0 q9,-7 19,0 q8,4 18,1"/>
<path d="M648,1084 q9,-7 18,-1 q9,7 20,0 q9,-7 19,0 q8,4 18,1"/>
<path d="M648,1096 q9,-7 18,-1 q9,7 20,0 q9,-7 19,0 q8,4 18,1"/>
</g>
<text class="b" x="478" y="1233" textLength="229" lengthAdjust="spacingAndGlyphs">NREM sleep</text>

<!-- Sleep disorders -->
<path d="M33,1042 C60,1038 120,1038 149,1042 L152,1122 C140,1126 120,1125 110,1115 L72,1115 C60,1125 45,1126 34,1122 Z" fill="#2a82c3"/>
<path d="M44,1166 C40,1140 48,1120 62,1122 C75,1130 105,1130 120,1122 C132,1120 142,1140 138,1166 Z" fill="#2d5676"/>
<ellipse cx="91" cy="1091" rx="31" ry="34" fill="#fff"/>
<ellipse cx="91" cy="1091" rx="27" ry="31" fill="#2d5676"/>
<path d="M76,994 L71,1013 L76,1013 L72,1027 L84,1007 L79,1008 L85,998 Z" fill="#2d5676"/>
<path d="M105,1003 L93,1020 L98,1022 L94,1034 L110,1015 L104,1014 L112,1004 Z" fill="#2d5676"/>
<rect x="184" y="1047" width="14" height="117" rx="7" fill="#2d5676"/>
<rect x="318.6" y="1100" width="14.4" height="64" rx="7" fill="#2d5676"/>
<path d="M204,1091 L226,1127 L226,1133.6 L319,1133.6 L319,1149 L204,1149 Z" fill="#2d5676"/>
<rect x="230" y="1081" width="84" height="46" rx="7" fill="#2a82c3"/>
<path d="M211,1065 C209,1060 214,1050 222,1049 C232,1050 236,1060 232,1068 L236,1085 C233,1095 226,1105 226,1118 L218,1102 C212,1085 210,1078 205,1075 Z" fill="#2a82c3"/>
<path d="M222,1056 C218,1062 226,1064 224,1070 C218,1070 212,1066 209,1072 M209,1072 L222,1080" fill="none" stroke="#fff" stroke-width="1.5"/>
<circle cx="294.5" cy="1032" r="19" fill="#fff" stroke="#2d5676" stroke-width="3"/>
<path d="M294.5,1019 L294.5,1033 L304,1033" fill="none" stroke="#2d5676" stroke-width="2.8"/>
<text class="b" x="35" y="1224" textLength="301" lengthAdjust="spacingAndGlyphs">Sleep Disorders</text>
</svg>
</body></html>
